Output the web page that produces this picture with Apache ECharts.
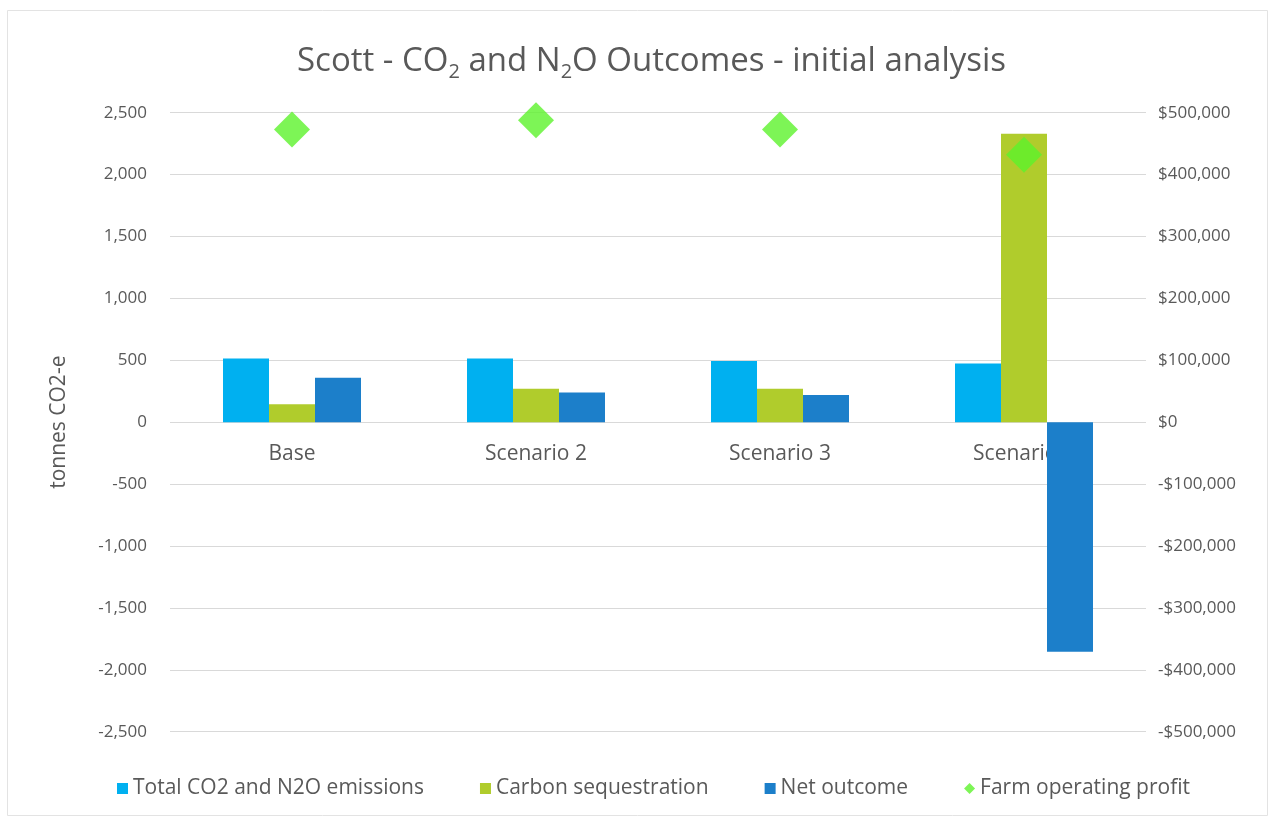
<!DOCTYPE html>
<html>
<head>
<meta charset="utf-8">
<script src="https://cdn.jsdelivr.net/npm/echarts@6/dist/echarts.min.js"></script>
<style>
  html, body { margin: 0; padding: 0; background: #ffffff; }
  #chart { width: 1270px; height: 820px; }
</style>
</head>
<body>
<div id="chart"></div>
<script>
// Scenario categories along the x axis
const categories = ['Base', 'Scenario 2', 'Scenario 3', 'Scenario 4'];

// Emissions and sequestration, tonnes CO2-e (left axis)
const totalEmissions = [515, 515, 495, 475];
const carbonSequestration = [145, 270, 270, 2330];
const netOutcome = [360, 240, 220, -1855];

// Farm operating profit, dollars (right axis)
const farmProfit = [473000, 488000, 473000, 432000];

// Axis ranges and steps
const leftAxisRange = [-2500, 2500, 500];
const rightAxisRange = [-500000, 500000, 100000];

const textColor = '#595959';
const gridColor = '#d9d9d9';
const fontFamily = '"Open Sans", "Liberation Sans", sans-serif';

function withCommas(v) {
  const s = Math.abs(v).toString().replace(/\B(?=(\d{3})+(?!\d))/g, ',');
  return (v < 0 ? '-' : '') + s;
}
function asDollars(v) {
  const s = Math.abs(v).toString().replace(/\B(?=(\d{3})+(?!\d))/g, ',');
  return (v < 0 ? '-$' : '$') + s;
}

const chart = echarts.init(document.getElementById('chart'), null, { renderer: 'canvas' });

const option = {
  backgroundColor: '#ffffff',
  animation: false,
  title: {
    text: 'Scott - CO{sub|2} and N{sub|2}O Outcomes - initial analysis',
    left: 292,
    top: 37,
    textStyle: {
      color: textColor,
      fontFamily: fontFamily,
      fontWeight: 'normal',
      fontSize: 33,
      rich: {
        sub: {
          color: textColor,
          fontFamily: fontFamily,
          fontSize: 20,
          padding: [20, 0, 0, 0]
        }
      }
    }
  },
  graphic: [{
    type: 'rect',
    shape: { x: 7.5, y: 10.5, width: 1260, height: 805 },
    style: { fill: 'none', stroke: '#e3e3e3', lineWidth: 1 },
    silent: true,
    z: -1
  }],
  legend: {
    top: 773,
    left: 112,
    itemGap: 56,
    itemWidth: 11,
    itemHeight: 11,
    textStyle: { color: textColor, fontFamily: fontFamily, fontSize: 21 },
    data: [
      { name: 'Total CO2 and N2O emissions', icon: 'rect' },
      { name: 'Carbon sequestration', icon: 'rect' },
      { name: 'Net outcome', icon: 'rect' },
      { name: 'Farm operating profit', icon: 'diamond' }
    ]
  },
  grid: {
    left: 170,
    right: 124,
    top: 112.7,
    bottom: 88.3,
    containLabel: false
  },
  xAxis: {
    type: 'category',
    data: categories,
    axisTick: { show: false },
    axisLine: { show: false, onZero: false },
    // category names sit just under the zero line
    axisLabel: { color: textColor, fontFamily: fontFamily, fontSize: 21, margin: -288 }
  },
  yAxis: [{
    type: 'value',
    min: leftAxisRange[0],
    max: leftAxisRange[1],
    interval: leftAxisRange[2],
    name: 'tonnes CO2-e',
    nameLocation: 'middle',
    nameRotate: 90,
    nameGap: 100,
    nameTextStyle: { color: textColor, fontFamily: fontFamily, fontSize: 21 },
    axisLine: { show: false },
    axisTick: { show: false },
    splitLine: { lineStyle: { color: gridColor, width: 1 } },
    axisLabel: { color: textColor, fontFamily: fontFamily, fontSize: 17, margin: 23, formatter: withCommas }
  }, {
    type: 'value',
    min: rightAxisRange[0],
    max: rightAxisRange[1],
    interval: rightAxisRange[2],
    position: 'right',
    axisLine: { show: false },
    axisTick: { show: false },
    splitLine: { show: false },
    axisLabel: { color: textColor, fontFamily: fontFamily, fontSize: 17, margin: 12, formatter: asDollars }
  }],
  series: [{
    name: 'Total CO2 and N2O emissions',
    type: 'bar',
    data: totalEmissions,
    barWidth: 46,
    barGap: '0%',
    itemStyle: { color: '#00b0f0' }
  }, {
    name: 'Carbon sequestration',
    type: 'bar',
    data: carbonSequestration,
    barWidth: 46,
    barGap: '0%',
    itemStyle: { color: '#b0cc2c' }
  }, {
    name: 'Net outcome',
    type: 'bar',
    data: netOutcome,
    barWidth: 46,
    barGap: '0%',
    itemStyle: { color: '#1c7fca' }
  }, {
    name: 'Farm operating profit',
    type: 'scatter',
    yAxisIndex: 1,
    data: farmProfit,
    symbol: 'diamond',
    symbolSize: 36,
    itemStyle: { color: '#5cf22c' },
    z: 5
  }]
};

chart.setOption(option);
</script>
</body>
</html>
